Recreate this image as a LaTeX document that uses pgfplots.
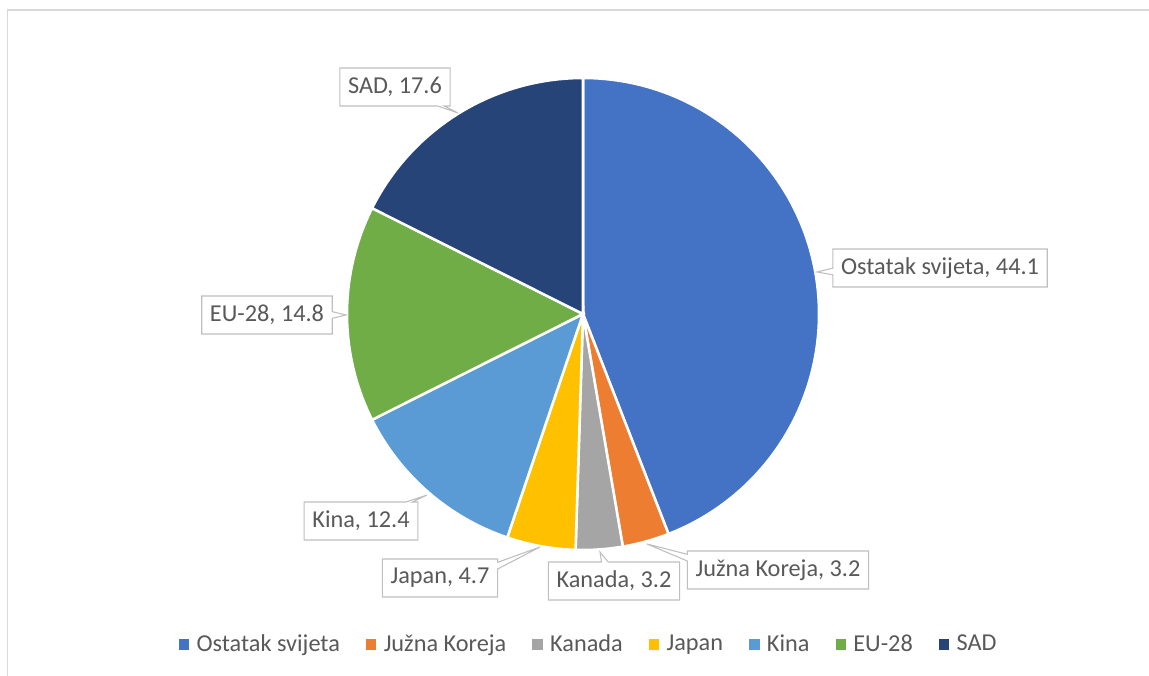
\documentclass[border=0pt]{standalone}
\usepackage{fontspec}
\setmainfont{Carlito}
\usepackage{pgfplots}
\pgfplotsset{compat=1.18}
\usetikzlibrary{shapes.callouts}

\definecolor{c1}{HTML}{4472C4}
\definecolor{c2}{HTML}{ED7D31}
\definecolor{c3}{HTML}{A5A5A5}
\definecolor{c4}{HTML}{FFC000}
\definecolor{c5}{HTML}{5B9BD5}
\definecolor{c6}{HTML}{70AD47}
\definecolor{c7}{HTML}{264478}
\definecolor{txt}{HTML}{595959}
\definecolor{frame}{HTML}{D9D9D9}
\definecolor{lbl}{HTML}{BFBFBF}

% one pie slice: value (percent), colour; slices run clockwise from 12 o'clock
\def\astart{90}
\newcommand\slice[2]{%
  \pgfmathsetmacro\aend{\astart-3.6*#1}%
  \edef\doslice{\noexpand\fill[#2,draw=white,line width=1.9pt] (axis cs:583,361) -- ++(\astart:177pt) arc[start angle=\astart,end angle=\aend,radius=177pt] -- cycle;}%
  \doslice
  \xdef\astart{\aend}%
}

\begin{document}
\begin{tikzpicture}[
  lab/.style={rectangle callout,draw=lbl,fill=white,text=txt,line width=0.8pt,
    font=\fontsize{18.2}{21}\selectfont,inner xsep=6.2pt,inner ysep=0pt,
    minimum height=28.5pt,callout pointer width=5pt}]
\begin{axis}[
  x=0.75pt,y=0.75pt,
  xmin=0,xmax=1149,ymin=0,ymax=675,
  hide axis,clip=false,
  legend columns=7,
  legend style={at={(0.5126,0.0459)},anchor=center,draw=none,fill=none,
    font=\fontsize{18.2}{21}\selectfont,text=txt,
    /tikz/every even column/.append style={column sep=17.5pt}},
  legend cell align=left,
  legend image code/.code={\fill[#1] (0pt,-3.6pt) rectangle (7.2pt,3.6pt); \path (11pt,0pt);},
]
\coordinate (SW) at (axis cs:0,0);
\coordinate (NE) at (axis cs:1149,675);
\draw[frame,line width=1.1pt] (axis cs:7.5,-5) -- (axis cs:7.5,665) -- (axis cs:1160,665);

\slice{44.1}{c1}
\slice{3.2}{c2}
\slice{3.2}{c3}
\slice{4.7}{c4}
\slice{12.4}{c5}
\slice{14.8}{c6}
\slice{17.6}{c7}

\addlegendimage{c1}\addlegendentry{Ostatak svijeta}
\addlegendimage{c2}\addlegendentry{Južna Koreja}
\addlegendimage{c3}\addlegendentry{Kanada}
\addlegendimage{c4}\addlegendentry{Japan}
\addlegendimage{c5}\addlegendentry{Kina}
\addlegendimage{c6}\addlegendentry{EU-28}
\addlegendimage{c7}\addlegendentry{SAD}

\node[lab,callout absolute pointer={(axis cs:817,403)}] at (axis cs:940,407) {Ostatak svijeta, 44.1};
\node[lab,callout absolute pointer={(axis cs:647,131)}] at (axis cs:778,105) {Južna Koreja, 3.2};
\node[lab,callout absolute pointer={(axis cs:600,123)}] at (axis cs:614,94) {Kanada, 3.2};
\node[lab,callout absolute pointer={(axis cs:540,128)}] at (axis cs:440,97) {Japan, 4.7};
\node[lab,callout absolute pointer={(axis cs:427,180)}] at (axis cs:361,154) {Kina, 12.4};
\node[lab,callout absolute pointer={(axis cs:346,360)}] at (axis cs:267,360) {EU-28, 14.8};
\node[lab,callout absolute pointer={(axis cs:458,562)}] at (axis cs:395,588) {SAD, 17.6};
\end{axis}
\pgfresetboundingbox
\path (SW) rectangle (NE);
\end{tikzpicture}
\end{document}
